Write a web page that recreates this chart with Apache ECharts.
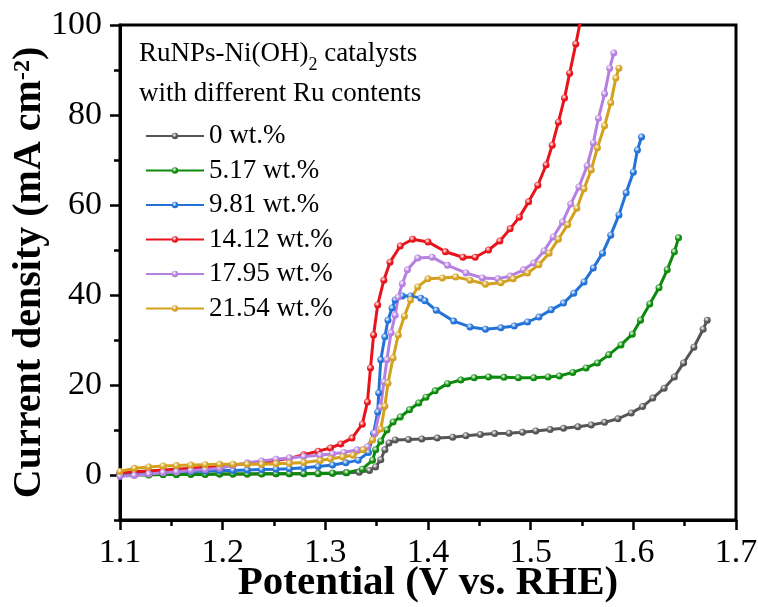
<!DOCTYPE html>
<html><head><meta charset="utf-8">
<script src="https://cdn.jsdelivr.net/npm/echarts@6/dist/echarts.min.js"></script>
<style>html,body{margin:0;padding:0;background:#fff}#c{width:758px;height:607px}</style>
</head><body><div id="c"></div>
<script>
const FONT = "'Liberation Serif', 'Times New Roman', Times, serif";
const xTicks = [1.1, 1.2, 1.3, 1.4, 1.5, 1.6, 1.7];
const xMinorTicks = [1.15, 1.25, 1.35, 1.45, 1.55, 1.65];
const yTicks = [0, 20, 40, 60, 80, 100];
const yMinorTicks = [-10, 10, 30, 50, 70, 90];
const seriesNames = ['0 wt.%', '5.17 wt.%', '9.81 wt.%', '14.12 wt.%', '17.95 wt.%', '21.54 wt.%'];
const colors = ['#555555', '#0c8a0c', '#2272d8', '#e8141c', '#b580e0', '#d4a11e'];

const s0 = [[1.100,0.1],[1.114,0.1],[1.128,0.1],[1.142,0.1],[1.155,0.1],[1.169,0.2],[1.183,0.2],[1.197,0.2],[1.210,0.2],[1.224,0.2],[1.238,0.3],[1.252,0.3],[1.265,0.3],[1.279,0.3],[1.293,0.4],[1.307,0.4],[1.320,0.5],[1.333,0.6],[1.343,1.0],[1.349,1.8],[1.354,3.4],[1.358,5.6],[1.362,7.1],[1.368,7.8],[1.381,7.9],[1.394,8.0],[1.409,8.2],[1.424,8.4],[1.437,8.7],[1.451,9.0],[1.465,9.2],[1.479,9.3],[1.492,9.5],[1.505,9.8],[1.519,10.1],[1.532,10.4],[1.546,10.7],[1.559,11.1],[1.572,11.7],[1.585,12.5],[1.598,13.8],[1.609,15.2],[1.619,17.1],[1.630,19.3],[1.640,21.8],[1.649,24.9],[1.659,28.4],[1.668,32.4],[1.672,34.4]];
const s1 = [[1.100,0.0],[1.114,0.0],[1.128,0.0],[1.142,0.1],[1.155,0.1],[1.169,0.1],[1.183,0.1],[1.197,0.2],[1.210,0.2],[1.224,0.2],[1.238,0.2],[1.252,0.3],[1.265,0.3],[1.279,0.3],[1.293,0.3],[1.307,0.4],[1.321,0.5],[1.336,1.3],[1.346,3.3],[1.349,5.6],[1.354,7.5],[1.360,10.0],[1.366,11.8],[1.373,12.9],[1.382,14.5],[1.391,16.0],[1.398,17.3],[1.407,18.7],[1.419,20.3],[1.432,21.1],[1.445,21.6],[1.459,21.8],[1.474,21.7],[1.488,21.6],[1.503,21.6],[1.517,21.8],[1.528,22.0],[1.541,22.8],[1.554,23.8],[1.565,24.9],[1.576,26.7],[1.588,28.9],[1.599,31.3],[1.607,34.4],[1.616,38.0],[1.625,41.6],[1.633,45.6],[1.640,49.6],[1.644,52.7]];
const s2 = [[1.100,0.3],[1.114,0.4],[1.128,0.5],[1.142,0.6],[1.155,0.7],[1.169,0.8],[1.183,0.9],[1.197,1.0],[1.210,1.0],[1.224,1.1],[1.238,1.2],[1.252,1.3],[1.265,1.4],[1.279,1.6],[1.293,1.9],[1.307,2.2],[1.320,2.7],[1.332,3.3],[1.342,5.0],[1.347,9.3],[1.351,14.0],[1.352,18.2],[1.354,25.6],[1.358,30.7],[1.361,34.4],[1.365,37.1],[1.368,38.9],[1.375,39.8],[1.383,39.8],[1.393,39.3],[1.397,38.7],[1.408,36.6],[1.425,34.2],[1.441,32.9],[1.456,32.4],[1.471,32.7],[1.484,33.1],[1.497,34.0],[1.508,35.1],[1.520,36.7],[1.532,38.2],[1.542,40.4],[1.552,42.9],[1.561,46.0],[1.570,49.3],[1.578,53.3],[1.586,57.8],[1.593,62.7],[1.600,67.3],[1.604,72.2],[1.608,75.1]];
const s3 = [[1.100,0.5],[1.114,0.7],[1.128,0.9],[1.142,1.1],[1.155,1.3],[1.169,1.5],[1.183,1.7],[1.197,2.0],[1.210,2.2],[1.224,2.5],[1.238,2.8],[1.252,3.2],[1.265,3.7],[1.279,4.5],[1.293,5.3],[1.305,6.0],[1.315,6.9],[1.326,8.2],[1.336,11.3],[1.341,16.2],[1.344,23.8],[1.347,31.1],[1.351,37.8],[1.357,43.3],[1.363,47.3],[1.373,50.9],[1.385,52.4],[1.400,51.8],[1.417,49.6],[1.434,48.4],[1.446,48.4],[1.459,50.0],[1.470,52.0],[1.480,54.7],[1.489,57.3],[1.498,60.7],[1.507,64.4],[1.515,68.9],[1.521,73.3],[1.527,78.4],[1.533,83.8],[1.538,89.3],[1.544,95.8],[1.549,101.5]];
const s4 = [[1.100,-0.3],[1.114,-0.1],[1.128,0.2],[1.142,0.5],[1.155,0.7],[1.169,1.0],[1.183,1.2],[1.197,1.5],[1.210,2.1],[1.224,2.7],[1.238,3.1],[1.252,3.5],[1.265,3.8],[1.279,4.1],[1.295,4.4],[1.307,4.7],[1.318,5.0],[1.331,5.6],[1.341,6.3],[1.348,9.3],[1.354,15.1],[1.357,20.7],[1.360,25.6],[1.364,31.6],[1.368,35.5],[1.371,39.5],[1.375,42.5],[1.380,45.6],[1.390,48.2],[1.404,48.4],[1.419,46.6],[1.437,44.9],[1.453,43.8],[1.468,43.6],[1.480,44.2],[1.493,45.6],[1.503,47.1],[1.513,49.8],[1.522,52.9],[1.531,56.2],[1.539,60.2],[1.547,64.0],[1.555,68.7],[1.561,73.8],[1.566,79.3],[1.572,84.7],[1.577,90.4],[1.581,93.8]];
const s5 = [[1.100,0.8],[1.114,1.5],[1.128,1.8],[1.142,2.0],[1.155,2.1],[1.169,2.2],[1.183,2.3],[1.197,2.4],[1.210,2.4],[1.224,2.4],[1.238,2.4],[1.252,2.5],[1.265,2.6],[1.279,2.8],[1.295,3.2],[1.305,3.6],[1.317,4.0],[1.327,4.4],[1.337,5.6],[1.346,7.8],[1.354,10.2],[1.358,15.3],[1.361,20.4],[1.366,26.0],[1.371,31.1],[1.377,35.3],[1.383,38.9],[1.390,41.8],[1.400,43.6],[1.414,43.8],[1.427,44.0],[1.441,43.3],[1.456,42.4],[1.471,42.7],[1.483,43.6],[1.497,44.9],[1.508,46.7],[1.518,49.3],[1.527,52.4],[1.536,55.6],[1.545,59.3],[1.552,63.6],[1.559,67.8],[1.565,72.7],[1.572,77.6],[1.578,82.7],[1.583,88.2],[1.586,90.4]];
const allData = [s0, s1, s2, s3, s4, s5];

const chart = echarts.init(document.getElementById('c'), null, {renderer: 'canvas'});

const series = allData.map((d, i) => ({
  name: seriesNames[i],
  type: 'line',
  data: d,
  symbol: 'circle',
  symbolSize: 7,
  showSymbol: true,
  clip: true,
  lineStyle: {color: colors[i], width: 3},
  itemStyle: {
    color: {type: 'radial', x: 0.4, y: 0.35, r: 0.7,
      colorStops: [{offset: 0, color: '#ffffff'}, {offset: 0.55, color: colors[i]}, {offset: 1, color: colors[i]}]},
    borderWidth: 0
  },
  emphasis: {disabled: true},
  animation: false
}));

const tickStyle = {color: '#000', width: 2.5};

chart.setOption({
  backgroundColor: '#ffffff',
  animation: false,
  grid: {left: 120, right: 22, top: 25, bottom: 87, show: true, borderColor: '#000', borderWidth: 3,
         containLabel: false, outerBoundsMode: 'none'},
  title: {
    left: 139, top: 34, padding: 0,
    text: '{a|RuNPs-Ni(OH)}{sub|2}{a| catalysts}\n{a|with different Ru contents}',
    textStyle: {
      fontWeight: 'normal',
      rich: {
        a: {fontSize: 27, fontWeight: 'normal', fontFamily: FONT, color: '#000', lineHeight: 40},
        sub: {fontSize: 18, fontWeight: 'normal', fontFamily: FONT, color: '#000', lineHeight: 18, padding: [22, 0, 0, 0]}
      }
    }
  },
  legend: {
    orient: 'vertical', left: 140, top: 116,
    itemWidth: 58, itemHeight: 8, itemGap: 4.5,
    textStyle: {fontSize: 27, fontFamily: FONT, color: '#000', lineHeight: 30},
    data: seriesNames
  },
  xAxis: [{
    type: 'value', min: 1.1, max: 1.7,
    axisLine: {show: true, onZero: false, lineStyle: {color: '#000', width: 3}},
    axisTick: {show: true, customValues: xTicks, length: 10, lineStyle: tickStyle},
    axisLabel: {customValues: xTicks, formatter: v => v.toFixed(1), fontSize: 34, fontFamily: FONT, color: '#000', margin: 16},
    splitLine: {show: false},
    name: 'Potential (V vs. RHE)', nameLocation: 'middle', nameGap: 43, nameMoveOverlap: false,
    nameTextStyle: {fontSize: 41, fontWeight: 'bold', fontFamily: FONT, color: '#000'}
  }, {
    type: 'value', min: 1.1, max: 1.7, position: 'bottom',
    axisLine: {show: false, onZero: false}, axisLabel: {show: false}, splitLine: {show: false},
    axisTick: {show: true, customValues: xMinorTicks, length: 6, lineStyle: tickStyle}
  }],
  yAxis: [{
    type: 'value', min: -10, max: 100,
    axisLine: {show: true, onZero: false, lineStyle: {color: '#000', width: 3}},
    axisTick: {show: true, customValues: yTicks, length: 10, lineStyle: tickStyle},
    axisLabel: {customValues: yTicks, fontSize: 34, fontFamily: FONT, color: '#000', margin: 18},
    splitLine: {show: false},
    name: '{t|Current density (mA cm}{sup|-2}{t|)}', nameLocation: 'middle', nameGap: 70, nameMoveOverlap: false,
    nameTextStyle: {
      rich: {
        t: {fontSize: 40, fontWeight: 'bold', fontFamily: FONT, color: '#000', lineHeight: 40},
        sup: {fontSize: 24, fontWeight: 'bold', fontFamily: FONT, color: '#000', lineHeight: 24, padding: [0, 0, 15, 0]}
      }
    }
  }, {
    type: 'value', min: -10, max: 100, position: 'left',
    axisLine: {show: false, onZero: false}, axisLabel: {show: false}, splitLine: {show: false},
    axisTick: {show: true, customValues: yMinorTicks, length: 6, lineStyle: tickStyle}
  }],
  series: series
});
</script>
</body></html>
